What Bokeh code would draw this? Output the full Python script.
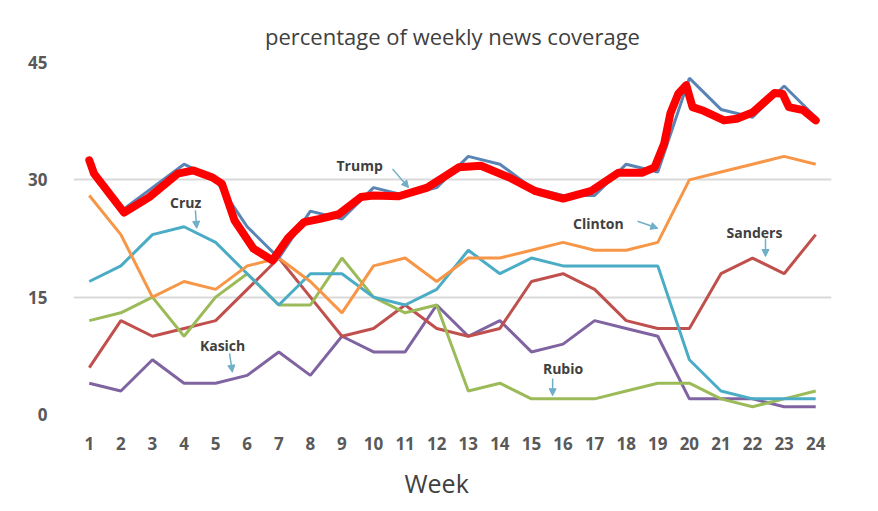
from bokeh.plotting import figure
from bokeh.models import Label, Arrow, NormalHead, FixedTicker, ColumnDataSource, Title
from bokeh.embed import file_html
from bokeh.resources import INLINE

weeks = list(range(1, 25))
trump = [32, 26, 29, 32, 30, 24, 20, 26, 25, 29, 28, 29, 33, 32, 29, 28, 28, 32, 31, 43, 39, 38, 42, 38]
clinton = [28, 23, 15, 17, 16, 19, 20, 17, 13, 19, 20, 17, 20, 20, 21, 22, 21, 21, 22, 30, 31, 32, 33, 32]
cruz = [17, 19, 23, 24, 22, 18, 14, 18, 18, 15, 14, 16, 21, 18, 20, 19, 19, 19, 19, 7, 3, 2, 2, 2]
sanders = [6, 12, 10, 11, 12, 16, 20, 15, 10, 11, 14, 11, 10, 11, 17, 18, 16, 12, 11, 11, 18, 20, 18, 23]
kasich = [4, 3, 7, 4, 4, 5, 8, 5, 10, 8, 8, 14, 10, 12, 8, 9, 12, 11, 10, 2, 2, 2, 1, 1]
rubio = [12, 13, 15, 10, 15, 18, 14, 14, 20, 15, 13, 14, 3, 4, 2, 2, 2, 3, 4, 4, 2, 1, 2, 3]

# hand-drawn red trend over Trump
trend_x = [1, 1.15, 2.1, 2.9, 3.8, 4.3, 4.9, 5.2, 5.6, 6.2, 6.8, 7.3, 7.8, 8.3, 8.9, 9.6, 10.0, 10.8,
           11.7, 12.7, 13.4, 14.3, 15.1, 16.0, 16.9, 17.75, 18.5, 18.9, 19.2, 19.4, 19.65, 19.9, 20.1,
           20.4, 21.1, 21.5, 22.0, 22.7, 22.95, 23.15, 23.6, 24.0]
trend_y = [32.5, 30.8, 25.8, 27.8, 30.8, 31.2, 30.3, 29.5, 24.8, 21.2, 19.7, 22.6, 24.6, 25.0, 25.6,
           27.8, 28.0, 27.9, 29.0, 31.6, 31.8, 30.3, 28.6, 27.6, 28.6, 30.9, 30.9, 31.6, 34.6, 38.5,
           41.0, 42.1, 39.3, 38.9, 37.6, 37.8, 38.6, 41.1, 41.0, 39.3, 38.9, 37.6]

y_ticks = [0, 15, 30, 45]

names = ["Trump", "Cruz", "Clinton", "Sanders", "Kasich", "Rubio"]
label_x = [9.56, 4.05, 17.12, 22.06, 5.22, 16.0]
label_y = [31.8, 27.1, 24.4, 23.3, 8.8, 5.9]
arrow_x0 = [10.6, 4.36, 18.36, 22.41, 5.44, 15.67]
arrow_y0 = [31.4, 26.1, 24.7, 22.5, 7.8, 4.6]
arrow_x1 = [11.11, 4.4, 19.0, 22.41, 5.53, 15.67]
arrow_y1 = [29.0, 23.8, 23.8, 20.2, 5.4, 2.4]

p = figure(width=878, height=511, output_backend="svg", toolbar_location=None,
           x_range=(0.5, 24.5), y_range=(0, 45),
           min_border_left=73, min_border_right=47, min_border_top=62, min_border_bottom=97)
p.outline_line_color = None
p.background_fill_color = "white"
p.border_fill_color = "white"

p.title.text = "percentage of weekly news coverage"
p.title.align = "center"
p.title.text_font = "Open Sans"
p.title.text_font_size = "22px"
p.title.text_font_style = "normal"
p.title.text_color = "#404040"
p.title.standoff = 24

p.xgrid.grid_line_color = None
p.ygrid.grid_line_color = "#D9D9D9"
p.ygrid.grid_line_width = 2
p.ygrid.ticker = FixedTicker(ticks=y_ticks)

for ax in (p.xaxis[0], p.yaxis[0]):
    ax.axis_line_color = None
    ax.major_tick_line_color = None
    ax.minor_tick_line_color = None
    ax.major_label_text_font = "Open Sans"
    ax.major_label_text_font_size = "17px"
    ax.major_label_text_font_style = "bold"
    ax.major_label_text_color = "#595959"
p.xaxis.ticker = FixedTicker(ticks=weeks)
p.yaxis.ticker = FixedTicker(ticks=y_ticks)
p.xaxis.major_label_standoff = 16
p.yaxis.major_label_standoff = 20

src = ColumnDataSource(dict(week=weeks, trump=trump, clinton=clinton, cruz=cruz,
                            sanders=sanders, kasich=kasich, rubio=rubio))
lw = 3
p.line("week", "kasich", source=src, line_color="#8064A2", line_width=lw)
p.line("week", "sanders", source=src, line_color="#C0504D", line_width=lw)
p.line("week", "rubio", source=src, line_color="#9BBB59", line_width=lw)
p.line("week", "cruz", source=src, line_color="#4BACC6", line_width=lw)
p.line("week", "clinton", source=src, line_color="#F79646", line_width=lw)
p.line("week", "trump", source=src, line_color="#5A84B4", line_width=lw)
p.line(trend_x, trend_y, line_color="#FF0000", line_width=8, line_join="round", line_cap="round")

for n, lx, ly in zip(names, label_x, label_y):
    p.add_layout(Label(x=lx, y=ly, text=n, text_align="center", text_baseline="middle",
                       text_font="Open Sans", text_font_size="14px", text_font_style="bold",
                       text_color="#404040"))
for x0, y0, x1, y1 in zip(arrow_x0, arrow_y0, arrow_x1, arrow_y1):
    p.add_layout(Arrow(x_start=x0, y_start=y0, x_end=x1, y_end=y1,
                       line_color="#6FAFC8", line_width=1.5,
                       end=NormalHead(size=7, fill_color="#6FAFC8", line_color="#6FAFC8")))

p.add_layout(Title(text="Week", align="left", offset=331, standoff=22,
                   text_font="Open Sans", text_font_size="25px", text_font_style="normal",
                   text_color="#404040"), "below")

open("out.html", "w").write(file_html(p, INLINE))
